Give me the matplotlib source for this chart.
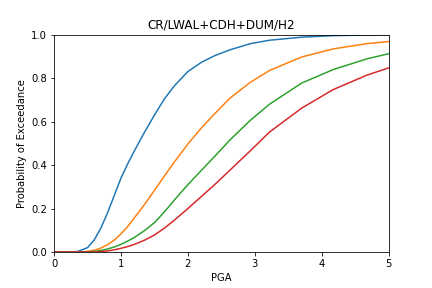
import numpy as np
import matplotlib
matplotlib.use("Agg")
import matplotlib.pyplot as plt

# PGA grid and exceedance probabilities
pga = [0, 0.2, 0.35, 0.5, 0.6, 0.7, 0.8, 0.9, 1.0, 1.1, 1.2, 1.35, 1.5, 1.65,
       1.8, 2.0, 2.2, 2.4, 2.63, 2.93, 3.22, 3.7, 4.17, 4.67, 5.0]

ds1 = [0, 0, 0.002, 0.02, 0.055, 0.11, 0.18, 0.26, 0.34, 0.405, 0.465, 0.55,
       0.63, 0.705, 0.765, 0.83, 0.872, 0.903, 0.93, 0.958, 0.974, 0.988,
       0.995, 0.998, 0.999]
ds2 = [0, 0, 0, 0.003, 0.008, 0.018, 0.033, 0.055, 0.083, 0.117, 0.157, 0.218,
       0.283, 0.35, 0.415, 0.497, 0.57, 0.636, 0.708, 0.78, 0.835, 0.897,
       0.934, 0.958, 0.968]
ds3 = [0, 0, 0, 0, 0.003, 0.007, 0.014, 0.023, 0.035, 0.05, 0.067, 0.098,
       0.135, 0.185, 0.24, 0.31, 0.375, 0.44, 0.516, 0.605, 0.68, 0.777, 0.839,
       0.888, 0.912]
ds4 = [0, 0, 0, 0, 0, 0.002, 0.005, 0.01, 0.017, 0.025, 0.035, 0.054, 0.078,
       0.11, 0.147, 0.2, 0.255, 0.31, 0.377, 0.465, 0.552, 0.662, 0.747,
       0.813, 0.847]

fig, ax = plt.subplots(figsize=(6, 4), dpi=72)
fig.subplots_adjust(bottom=0.125)

for ds in [ds1, ds2, ds3, ds4]:
    ax.plot(pga, ds)

ax.set_xlim(0, 5)
ax.set_ylim(0, 1)
ax.set_title("CR/LWAL+CDH+DUM/H2")
ax.set_xlabel("PGA")
ax.set_ylabel("Probability of Exceedance")

fig.savefig("out.png", dpi=72)
